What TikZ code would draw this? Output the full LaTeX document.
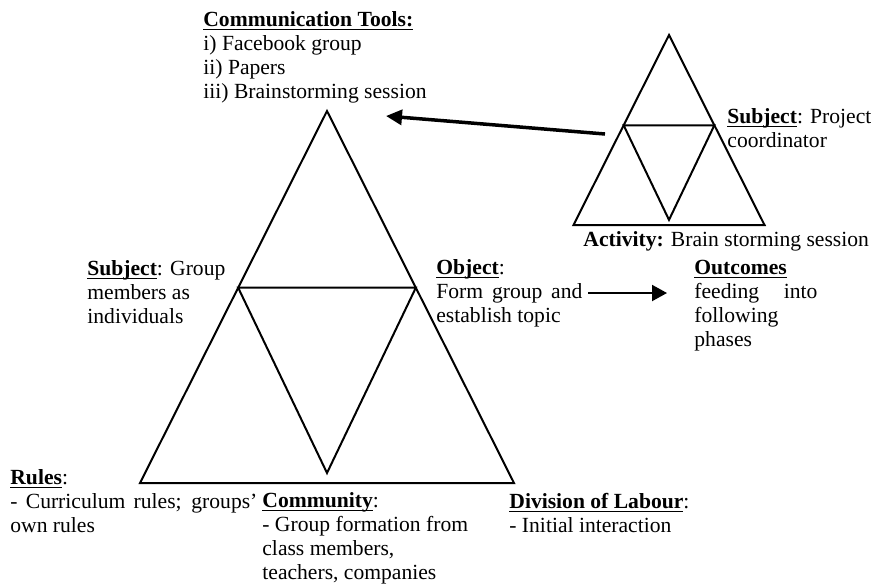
\documentclass[tikz,border=0pt]{standalone}
\usepackage{fontspec}
\setmainfont{Liberation Serif}
\usepackage{tikz}
\usetikzlibrary{positioning,arrows.meta}

% titre gras souligne (trait a hauteur fixe)
\newcommand{\uhead}[1]{\setbox0\hbox{\textbf{#1}}\rlap{\rule[-2.1pt]{\wd0}{0.8pt}}\box0}

\begin{document}
\begin{tikzpicture}[x=0.5pt,y=-0.5pt,
    tri/.style={line width=1pt,line join=miter},
    txt/.style={anchor=base west,inner sep=0pt,align=left,font=\fontsize{10.8}{12}\selectfont},
    bigarrow/.style={-{Triangle[length=8pt,width=7.5pt]},line width=1.75pt},
    smallarrow/.style={-{Triangle[length=7.5pt,width=8pt]},line width=1pt}]

\useasboundingbox (0,0) rectangle (871,585);

% Triangles (sommet, hauteur, demi-base)
\foreach \t/\ax/\ay/\h/\w in {main/327/111/372/187, coord/669/35/190/95.5} {
    \coordinate (\t-top) at (\ax,\ay);
    \coordinate (\t-bl) at (\ax-\w,\ay+\h);
    \coordinate (\t-br) at (\ax+\w,\ay+\h);
    \coordinate (\t-ml) at (\ax-0.475*\w,\ay+0.475*\h);
    \coordinate (\t-mr) at (\ax+0.475*\w,\ay+0.475*\h);
    \coordinate (\t-bot) at (\ax,\ay+0.973*\h);
    \draw[tri] (\t-top) -- (\t-bl) -- (\t-br) -- cycle;
    \draw[tri] (\t-ml) -- (\t-mr) -- (\t-bot) -- cycle;
}

% Petit triangle (base = derniere ligne)
\node[txt] (tools) at (203,98) {\uhead{Communication Tools:}\\i) Facebook group\\ii) Papers\\iii) Brainstorming session};
\node[txt] (subjP) at (727,147) {\uhead{Subject}: Project\\coordinator};
\node[txt] (act) at (583,246) {\textbf{Activity:} Brain storming session};

% Grand triangle
\node[txt] (subjG) at (87,323) {\uhead{Subject}: Group\\members as\\individuals};
\node[txt] (obj) at (436,322) {\uhead{Object}:\\\makebox[73pt][s]{Form group and}\\establish topic};
\node[txt] (outc) at (694,346) {\uhead{Outcomes}\\\makebox[61.5pt][s]{feeding into}\\following\\phases};
\node[txt] (rules) at (10,532) {\uhead{Rules}:\\\makebox[123.5pt][s]{- Curriculum rules; groups'}\\own rules};
\node[txt] (comm) at (262,579) {\uhead{Community}:\\- Group formation from\\class members,\\teachers, companies};
\node[txt] (div) at (509,532) {\uhead{Division of Labour}:\\- Initial interaction};

% Fleches
\coordinate (coord-out) at (605,134);
\coordinate (tools-in) at (386,116);
\draw[bigarrow] (coord-out) -- (tools-in);
\coordinate (obj-out) at (588,293);
\coordinate (outc-in) at (667,293);
\draw[smallarrow] (obj-out) -- (outc-in);

\end{tikzpicture}
\end{document}
